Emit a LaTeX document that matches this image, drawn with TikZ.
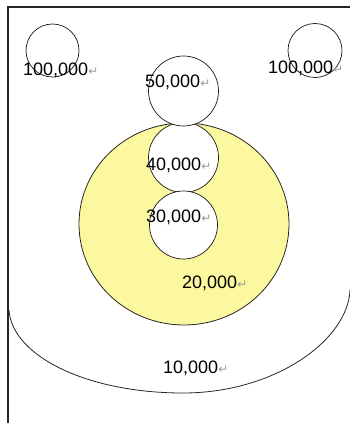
\documentclass[tikz,border=0pt]{standalone}
\usepackage{fontspec}
\setmainfont{Liberation Sans}
\newfontfamily\retfont{DejaVu Sans}
\usepackage[dvipsnames,svgnames,x11names]{xcolor}
\definecolor{zoneyellow}{HTML}{FBF8A0}
\definecolor{retgray}{HTML}{9A9A9A}
\usepackage{tikz}
\usetikzlibrary{positioning,calc}

\newcommand{\amount}[1]{#1{\retfont\fontsize{12}{12}\selectfont\textcolor{retgray}{↵}}}

\begin{document}
\begin{tikzpicture}[x=1pt, y=-1pt,
  ring/.style={draw=black!90, line width=0.7pt, fill=white},
  zone/.style={draw=black!85, line width=0.8pt, fill=zoneyellow},
  frameline/.style={draw=black!85, line width=1.1pt},
  label/.style={anchor=west, inner sep=0pt, font=\fontsize{18}{20}\selectfont},
]
\useasboundingbox (0,0) rectangle (350,423);

% Frame
\draw[frameline] (350,7) -- (8,7) -- (8,423);

% Outer arc
\draw[black!85, line width=0.8pt] (9,310) .. controls (12,356) and (87,393) .. (183,393)
  .. controls (275,393) and (348,340) .. (350,290);

% Yellow zone
\draw[zone] (184,224) ellipse [x radius=105, y radius=101];

% Small circles
\draw[ring] (183.5,157.5) circle [radius=35];
\draw[ring] (183.5,225) circle [radius=34];
\draw[ring] (183.5,91) circle [radius=35];
\draw[ring, fill=none] (52.5,50.5) circle [radius=26.5];
\draw[ring, fill=none] (315,50.5) circle [radius=27];

% Labels
\node[label] (tl) at (23,70) {\amount{100,000}};
\node[label] (tr) at (268,68) {\amount{100,000}};
\node[label] (c50) at (145,82) {\amount{50,000}};
\node[label] (c40) at (146,165) {\amount{40,000}};
\node[label] (c30) at (146,217) {\amount{30,000}};
\node[label] (c20) at (182,283) {\amount{20,000}};
\node[label] (c10) at (163,368) {\amount{10,000}};

\end{tikzpicture}
\end{document}
